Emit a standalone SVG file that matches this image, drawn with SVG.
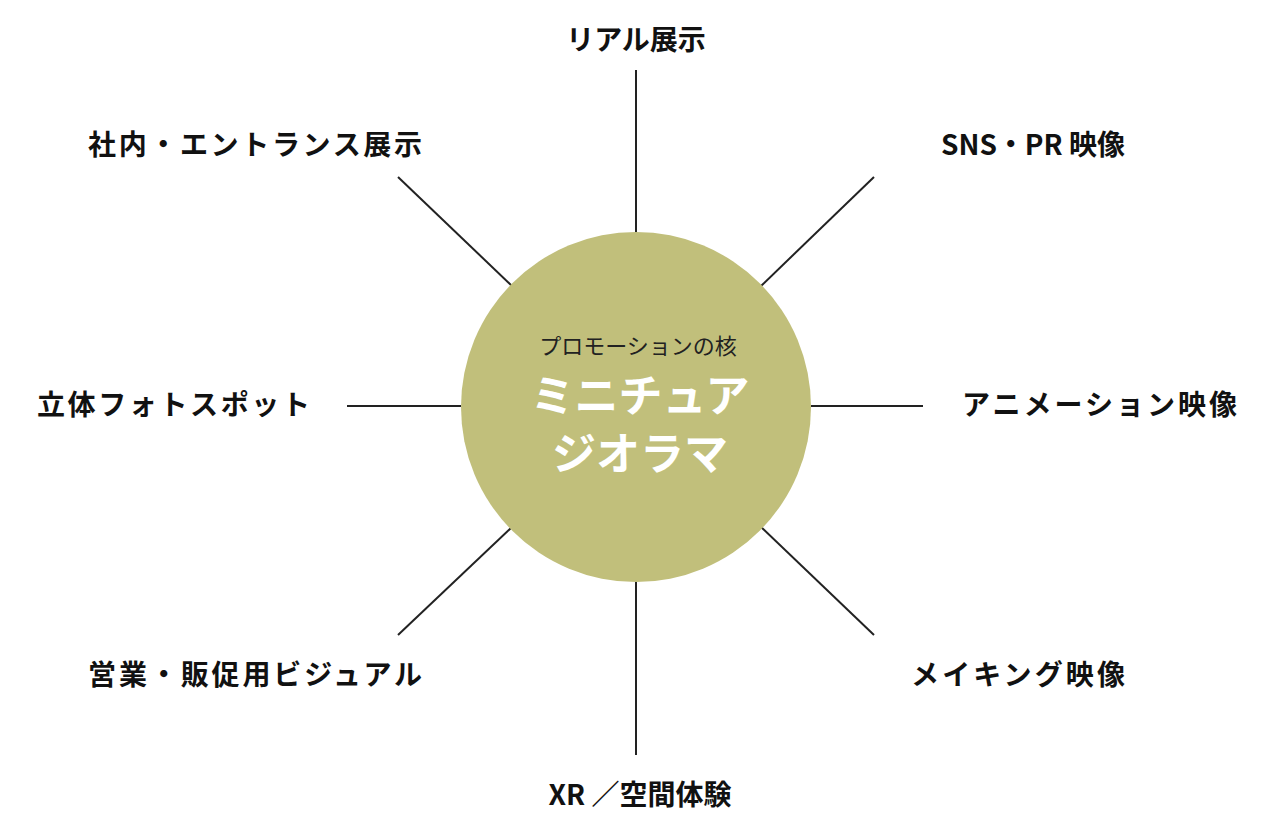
<svg xmlns="http://www.w3.org/2000/svg" width="1274" height="826" viewBox="0 0 1274 826">
<style>
.l{stroke:#222;stroke-width:2;fill:none}
.t{font-family:"Noto Sans CJK JP","Noto Sans",sans-serif;font-weight:bold;font-size:28px;fill:#111}
.c{font-family:"Noto Sans CJK JP","Noto Sans",sans-serif;text-anchor:middle}
</style>
<rect width="1274" height="826" fill="#fff"/>
<g id="connectors">
<line class="l" x1="636" y1="70" x2="636" y2="232"/>
<line class="l" x1="636" y1="582" x2="636" y2="755"/>
<line class="l" x1="347" y1="406" x2="461" y2="406"/>
<line class="l" x1="811" y1="406" x2="923" y2="406"/>
<line class="l" x1="398" y1="177" x2="512" y2="286"/>
<line class="l" x1="874" y1="177" x2="761" y2="286"/>
<line class="l" x1="398" y1="635" x2="512" y2="527"/>
<line class="l" x1="874" y1="635" x2="761" y2="527"/>
</g>
<g id="center">
<circle cx="636" cy="407" r="175" fill="#c1bf7b"/>
<text class="c" x="638" y="354" font-size="22" fill="#222">プロモーションの核</text>
<text class="c" x="640" y="412" font-size="44" font-weight="bold" fill="#fff">ミニチュア</text>
<text class="c" x="640" y="470" font-size="44" font-weight="bold" fill="#fff">ジオラマ</text>
</g>
<g id="n1"><text class="t" x="636" y="50" text-anchor="middle">リアル展示</text></g>
<g id="n2"><text class="t" x="88" y="155" textLength="334">社内・エントランス展示</text></g>
<g id="n3"><text class="t" x="1125" y="155" text-anchor="end">SNS・PR 映像</text></g>
<g id="n4"><text class="t" x="37" y="415" textLength="273">立体フォトスポット</text></g>
<g id="n5"><text class="t" x="962" y="415" textLength="275">アニメーション映像</text></g>
<g id="n6"><text class="t" x="88" y="685" textLength="334">営業・販促用ビジュアル</text></g>
<g id="n7"><text class="t" x="911" y="685" textLength="214">メイキング映像</text></g>
<g id="n8"><text class="t" x="640" y="805" text-anchor="middle">XR ／空間体験</text></g>
</svg>
